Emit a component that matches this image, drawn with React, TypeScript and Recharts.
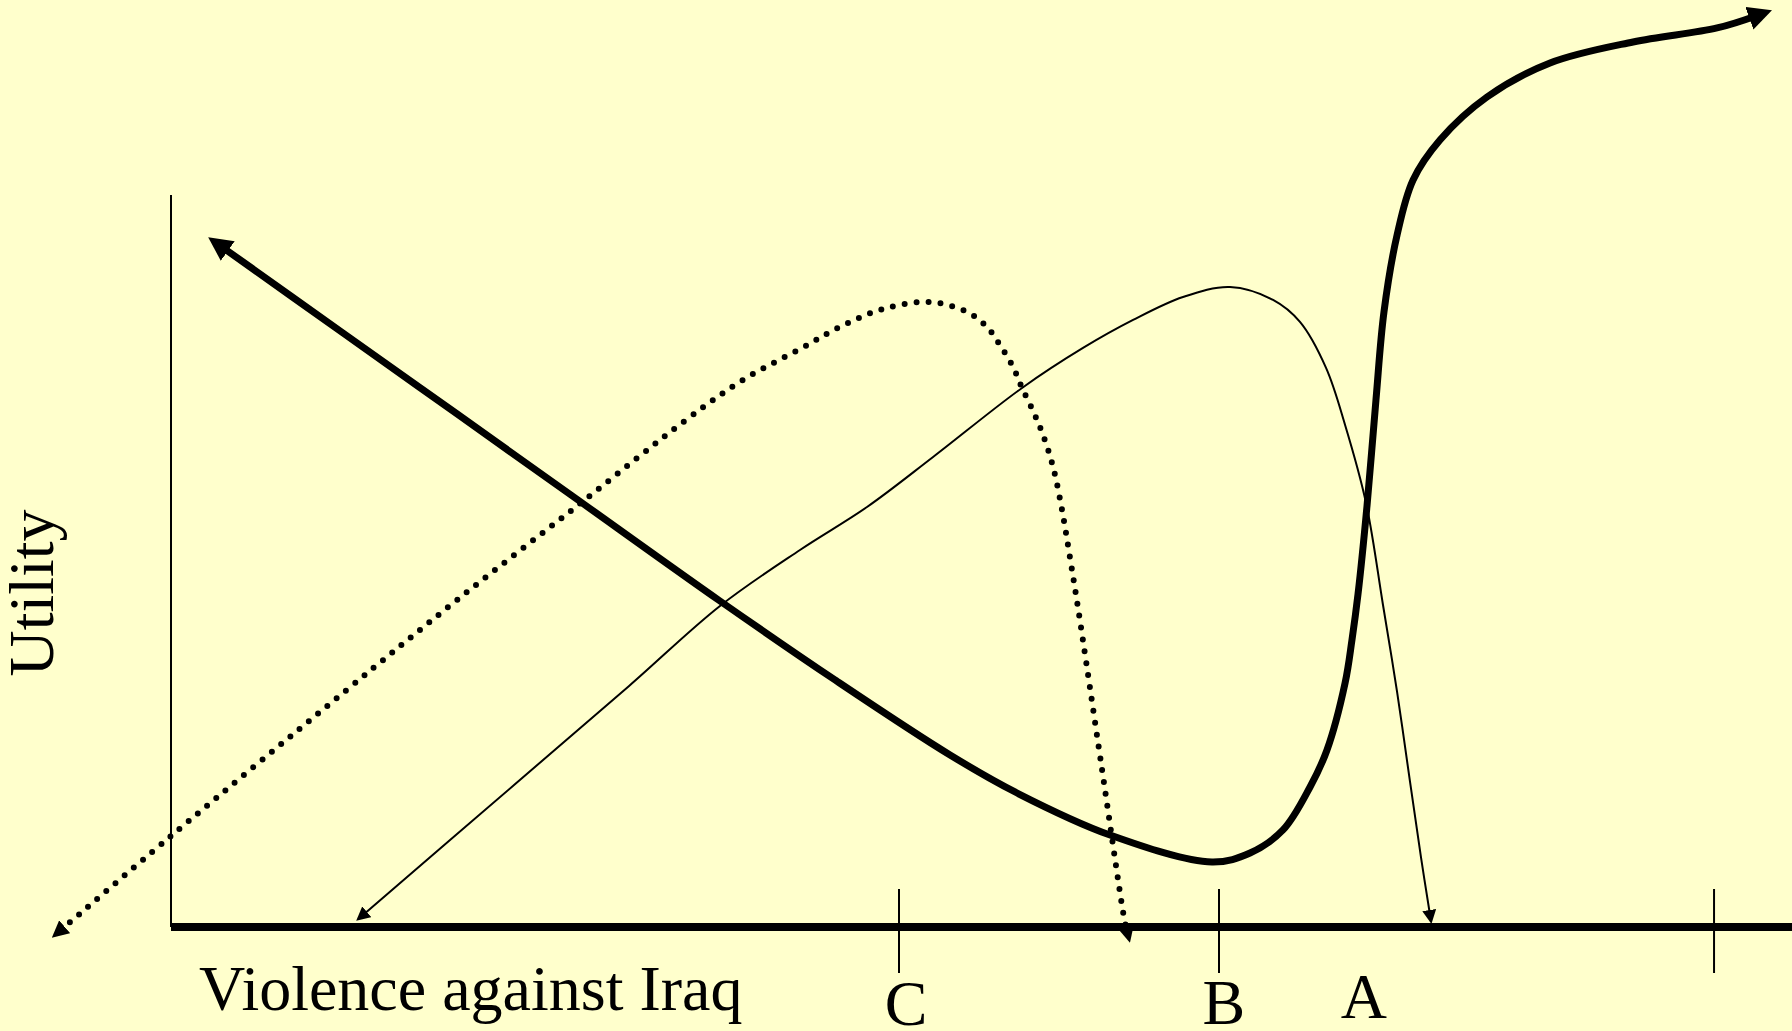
import React from 'react';
import { LineChart, Line, XAxis, YAxis, ReferenceLine, ReferenceDot } from 'recharts';

const W = 1792;
const H = 1031;

// Domain of the drawing, in "violence" (x) and "utility" (y) units
const X_DOMAIN = [-10.6875, 101.3125];
const Y_DOMAIN = [-13, 115.875];

// Thick curve (falls, then rises steeply)
const thickX = [3.19, 10.75, 17.88, 25.0, 34.31, 41.5, 48.69, 52.88, 58.69, 65.06, 67.44, 69.5, 71.19, 72.25, 73.38, 73.81, 74.19, 74.75, 75.31, 75.81, 76.63, 77.63, 79.31, 82.25, 86.19, 91.38, 96.63, 99.06];
const thickY = [85.0, 74.25, 64.13, 54.0, 40.75, 30.88, 21.5, 16.75, 11.5, 8.13, 9.25, 12.13, 17.5, 22.13, 30.5, 35.88, 41.63, 52.63, 65.88, 76.88, 86.5, 93.38, 98.38, 103.75, 108.0, 110.63, 112.38, 113.88];

// Thin solid curve (peak near B)
const thinX = [12.0, 21.44, 28.63, 34.31, 39.31, 43.5, 47.63, 53.19, 57.0, 60.13, 63.25, 66.19, 68.88, 70.56, 72.19, 73.38, 74.69, 75.75, 76.63, 77.44, 78.13, 78.69];
const thinY = [1.5, 17.75, 30.13, 40.13, 47.13, 52.5, 58.75, 67.38, 72.38, 75.88, 78.75, 80.0, 78.38, 75.63, 69.88, 62.75, 53.0, 40.25, 29.38, 18.13, 8.63, 1.5];

// Dotted curve (peak near C)
const dottedX = [-6.88, 0, 10.75, 17.88, 25.38, 32.19, 35.75, 39.31, 41.81, 44.5, 47.44, 49.75, 51.0, 51.81, 52.63, 53.19, 53.88, 54.5, 55.13, 55.69, 56.19, 56.69, 58.13, 59.56, 59.75];
const dottedY = [-0.38, 11.38, 29.25, 40.88, 52.63, 63.38, 68.38, 72.25, 75.0, 77.25, 78.13, 76.88, 75.0, 72.75, 70.0, 67.38, 64.5, 61.5, 57.5, 52.13, 46.13, 39.88, 20.5, 1.25, -0.5];

// Axis frame
const yAxisTop = 91.5;
const xAxisEnd = 101.3125;
const tickPositions = [45.5, 65.5, 96.44];
const tickRange = [-5.75, 4.75];

// Point labels
const pointLabels = ['C', 'B', 'A'];
const pointLabelX = [45.94, 65.81, 74.56];
const pointLabelY = [-12.25, -12.125, -11.375];

// Axis titles
const xTitle = 'Violence against Iraq';
const xTitlePos = [1.75, -10.375];
const yTitle = 'Utility';
const yTitlePos = [-7.375, 41.75];

const zip = (xs: number[], ys: number[]) => xs.map((x, i) => ({ x, y: ys[i] }));
const thickData = zip(thickX, thickY);
const thinData = zip(thinX, thinY);
const dottedData = zip(dottedX, dottedY);

const FONT = '"Liberation Serif", "Times New Roman", serif';

// Centripetal Catmull-Rom curve factory (smooth, passes through every point)
function catmullRom(context: any) {
  const alpha = 0.5;
  const eps = 1e-12;
  const s: any = {
    _line: NaN,
    areaStart() { s._line = 0; },
    areaEnd() { s._line = NaN; },
    lineStart() {
      s._x0 = s._x1 = s._x2 = s._y0 = s._y1 = s._y2 = NaN;
      s._l01_a = s._l12_a = s._l23_a = s._l01_2a = s._l12_2a = s._l23_2a = 0;
      s._point = 0;
    },
    lineEnd() {
      switch (s._point) {
        case 2: context.lineTo(s._x2, s._y2); break;
        case 3: s.point(s._x2, s._y2); break;
      }
      if (s._line || (s._line !== 0 && s._point === 1)) context.closePath();
      s._line = 1 - s._line;
    },
    point(x: number, y: number) {
      x = +x; y = +y;
      if (s._point) {
        const x23 = s._x2 - x, y23 = s._y2 - y;
        s._l23_2a = Math.pow(x23 * x23 + y23 * y23, alpha);
        s._l23_a = Math.sqrt(s._l23_2a);
      }
      switch (s._point) {
        case 0:
          s._point = 1;
          if (s._line) context.lineTo(x, y); else context.moveTo(x, y);
          break;
        case 1: s._point = 2; break;
        case 2: s._point = 3; // falls through
        default: {
          let x1 = s._x1, y1 = s._y1, x2 = s._x2, y2 = s._y2;
          if (s._l01_a > eps) {
            const a = 2 * s._l01_2a + 3 * s._l01_a * s._l12_a + s._l12_2a;
            const n = 3 * s._l01_a * (s._l01_a + s._l12_a);
            x1 = (x1 * a - s._x0 * s._l12_2a + s._x2 * s._l01_2a) / n;
            y1 = (y1 * a - s._y0 * s._l12_2a + s._y2 * s._l01_2a) / n;
          }
          if (s._l23_a > eps) {
            const b = 2 * s._l23_2a + 3 * s._l23_a * s._l12_a + s._l12_2a;
            const m = 3 * s._l23_a * (s._l23_a + s._l12_a);
            x2 = (x2 * b + s._x1 * s._l23_2a - x * s._l12_2a) / m;
            y2 = (y2 * b + s._y1 * s._l23_2a - y * s._l12_2a) / m;
          }
          context.bezierCurveTo(x1, y1, x2, y2, s._x2, s._y2);
          break;
        }
      }
      s._l01_a = s._l12_a; s._l12_a = s._l23_a;
      s._l01_2a = s._l12_2a; s._l12_2a = s._l23_2a;
      s._x0 = s._x1; s._x1 = s._x2; s._x2 = x;
      s._y0 = s._y1; s._y1 = s._y2; s._y2 = y;
    },
  };
  return s;
}

export default function App() {
  return (
    <div style={{ position: 'absolute', left: 0, top: 0, width: W, height: H, background: '#FFFFCC', overflow: 'hidden' }}>
      <svg width={0} height={0} style={{ position: 'absolute' }}>
        <defs>
          <marker id="arrowThick" markerUnits="userSpaceOnUse" markerWidth={24} markerHeight={24} viewBox="0 0 24 24" refX={7} refY={12} orient="auto-start-reverse">
            <path d="M0,0 L24,12 L0,24 Z" fill="#000" />
          </marker>
          <marker id="arrowThin" markerUnits="userSpaceOnUse" markerWidth={14} markerHeight={14} viewBox="0 0 14 14" refX={5} refY={7} orient="auto-start-reverse">
            <path d="M0,0 L14,7 L0,14 Z" fill="#000" />
          </marker>
          <marker id="arrowDot" markerUnits="userSpaceOnUse" markerWidth={17} markerHeight={17} viewBox="0 0 17 17" refX={5} refY={8.5} orient="auto-start-reverse">
            <path d="M0,0 L17,8.5 L0,17 Z" fill="#000" />
          </marker>
        </defs>
      </svg>
      <LineChart width={W} height={H} margin={{ top: 0, right: 0, bottom: 0, left: 0 }}>
        <XAxis type="number" dataKey="x" domain={X_DOMAIN} allowDataOverflow hide />
        <YAxis type="number" dataKey="y" domain={Y_DOMAIN} allowDataOverflow hide />
        <ReferenceLine segment={[{ x: 0, y: 0 }, { x: 0, y: yAxisTop }]} stroke="#000" strokeWidth={2} ifOverflow="visible" />
        {tickPositions.map((t, i) => (
          <ReferenceLine key={'t' + i} segment={[{ x: t, y: tickRange[0] }, { x: t, y: tickRange[1] }]} stroke="#000" strokeWidth={2} ifOverflow="visible" />
        ))}
        <Line data={dottedData} dataKey="y" type={catmullRom as any} stroke="#000" strokeWidth={6} strokeDasharray="0 12" strokeLinecap="round" dot={false} activeDot={false} isAnimationActive={false} markerStart="url(#arrowDot)" markerEnd="url(#arrowDot)" />
        <Line data={thinData} dataKey="y" type={catmullRom as any} stroke="#000" strokeWidth={2} dot={false} activeDot={false} isAnimationActive={false} markerStart="url(#arrowThin)" markerEnd="url(#arrowThin)" />
        <Line data={thickData} dataKey="y" type={catmullRom as any} stroke="#000" strokeWidth={7} dot={false} activeDot={false} isAnimationActive={false} markerStart="url(#arrowThick)" markerEnd="url(#arrowThick)" />
        <ReferenceLine segment={[{ x: 0, y: 0 }, { x: xAxisEnd, y: 0 }]} stroke="#000" strokeWidth={8} ifOverflow="visible" />
        {pointLabels.map((lab, i) => (
          <ReferenceDot key={'l' + i} x={pointLabelX[i]} y={pointLabelY[i]} r={0} ifOverflow="visible"
            shape={(p: any) => (
              <text x={p.cx} y={p.cy} textAnchor="middle" fontFamily={FONT} fontSize={64} fill="#000">{lab}</text>
            )} />
        ))}
        <ReferenceDot x={xTitlePos[0]} y={xTitlePos[1]} r={0} ifOverflow="visible"
          shape={(p: any) => (
            <text x={p.cx} y={p.cy} textAnchor="start" fontFamily={FONT} fontSize={64} fill="#000">{xTitle}</text>
          )} />
        <ReferenceDot x={yTitlePos[0]} y={yTitlePos[1]} r={0} ifOverflow="visible"
          shape={(p: any) => (
            <text x={p.cx} y={p.cy} transform={`rotate(-90 ${p.cx} ${p.cy})`} textAnchor="middle" fontFamily={FONT} fontSize={64} fill="#000">{yTitle}</text>
          )} />
      </LineChart>
    </div>
  );
}
